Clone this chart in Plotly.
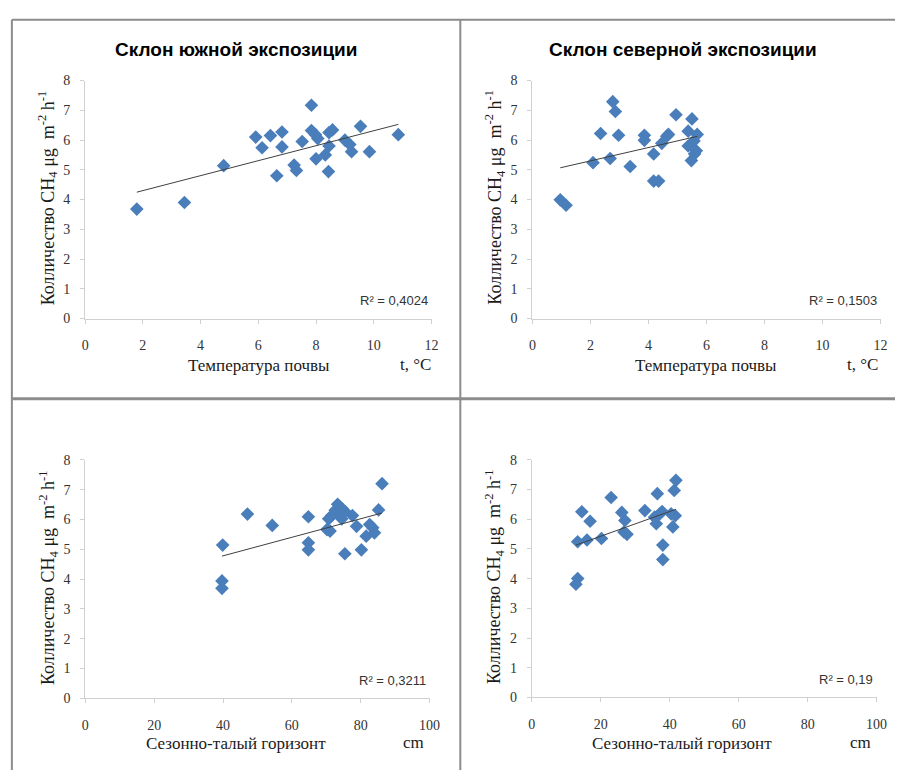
import numpy as np
import plotly.graph_objects as go

W, H = 906, 778

# ---- data ----
south_temp = [1.79, 3.44, 4.80, 5.91, 6.13, 6.42, 6.82, 6.82, 6.64, 7.24, 7.32, 7.52, 7.84, 7.84,
              7.98, 8.06, 8.00, 8.32, 8.45, 8.45, 8.57, 8.43, 9.00, 9.17, 9.23, 9.54, 9.85, 10.85]
south_temp_ch4 = [3.68, 3.90, 5.14, 6.10, 5.74, 6.15, 6.27, 5.77, 4.80, 5.16, 4.98, 5.95, 7.17, 6.32,
                  6.18, 6.05, 5.37, 5.50, 5.80, 6.25, 6.34, 4.94, 6.00, 5.85, 5.61, 6.46, 5.61, 6.18]

north_temp = [0.96, 1.16, 2.09, 2.35, 2.68, 2.77, 2.86, 2.97, 3.37, 3.86, 3.86, 4.18, 4.18, 4.35,
              4.46, 4.63, 4.69, 4.95, 5.37, 5.50, 5.37, 5.48, 5.59, 5.68, 5.57, 5.65]
north_temp_ch4 = [3.99, 3.81, 5.24, 6.22, 5.38, 7.29, 6.96, 6.16, 5.11, 6.16, 5.99, 5.53, 4.62, 4.62,
                  5.89, 6.13, 6.19, 6.85, 6.30, 6.71, 5.80, 5.31, 5.53, 6.19, 5.97, 5.64]

south_depth = [39.9, 39.7, 39.7, 47.1, 54.3, 64.8, 64.8, 64.8, 70.2, 71.1, 70.7, 71.6, 72.6, 73.3,
               74.0, 74.7, 75.4, 74.5, 75.4, 77.6, 78.8, 80.2, 81.6, 82.6, 83.5, 84.0, 85.2, 86.2]
south_depth_ch4 = [5.14, 3.94, 3.69, 6.18, 5.80, 6.09, 5.22, 4.98, 5.66, 5.61, 6.02, 6.13, 6.31, 6.51,
                   6.18, 6.35, 6.27, 6.02, 4.85, 6.13, 5.77, 4.98, 5.44, 5.83, 5.72, 5.55, 6.32, 7.20]

north_depth = [12.8, 13.3, 13.3, 14.5, 16.0, 16.9, 20.2, 23.0, 26.1, 27.0, 26.7, 27.6, 32.8, 35.6,
               36.1, 36.4, 37.1, 38.0, 38.0, 40.4, 40.9, 41.3, 41.6, 41.8, 37.8]
north_depth_ch4 = [3.81, 4.00, 5.24, 6.25, 5.30, 5.93, 5.35, 6.73, 6.23, 5.96, 5.57, 5.49, 6.29, 6.07,
                   5.85, 6.86, 6.18, 5.13, 4.64, 6.18, 5.74, 6.97, 6.12, 7.31, 6.26]

titles = ["Склон южной экспозиции", "Склон северной экспозиции"]
r2_labels = ["R² = 0,4024", "R² = 0,1503", "R² = 0,3211", "R² = 0,19"]
x_titles = ["Температура почвы", "Сезонно-талый горизонт"]
x_units = ["t, °C", "cm"]
y_title = "Колличество CH<sub>4</sub> μg  m<sup>-2</sup> h<sup>-1</sup>"

# ---- layout helpers ----
def fx(px):
    return px / W

def fy(py):
    return 1 - py / H

panels = [
    dict(x=south_temp, y=south_temp_ch4, xd=(82.5, 434.7), yd=(317.7, 75.0), xr=12, dt=2),
    dict(x=north_temp, y=north_temp_ch4, xd=(537.3, 891.3), yd=(317.7, 75.0), xr=12, dt=2),
    dict(x=south_depth, y=south_depth_ch4, xd=(82.7, 432.7), yd=(705.0, 461.7), xr=100, dt=20),
    dict(x=north_depth, y=north_depth_ch4, xd=(536.7, 887.3), yd=(704.0, 461.7), xr=100, dt=20),
]

fig = go.Figure()
layout = dict(width=W, height=H, margin=dict(l=0, r=0, t=0, b=0),
              paper_bgcolor="white", plot_bgcolor="white", showlegend=False)

AXCOL = "#d0d0d0"
TICKFONT = dict(family="Liberation Serif", size=14, color="#333333")
annotations = []
shapes = []

for i, p in enumerate(panels):
    n = i + 1
    xa = "x" if n == 1 else f"x{n}"
    ya = "y" if n == 1 else f"y{n}"
    xk = "xaxis" if n == 1 else f"xaxis{n}"
    yk = "yaxis" if n == 1 else f"yaxis{n}"
    xarr = np.array(p["x"])
    yarr = np.array(p["y"])
    fig.add_trace(go.Scatter(x=xarr, y=yarr, mode="markers", xaxis=xa, yaxis=ya,
                             marker=dict(symbol="diamond", size=10.5, color="#4a7ebb",
                                         line=dict(width=0)), hoverinfo="skip"))
    k, b = np.polyfit(xarr, yarr, 1)
    xl = np.array([xarr.min(), xarr.max()])
    fig.add_trace(go.Scatter(x=xl, y=k * xl + b, mode="lines", xaxis=xa, yaxis=ya,
                             line=dict(color="#404040", width=1), hoverinfo="skip"))
    layout[xk] = dict(domain=[fx(p["xd"][0]), fx(p["xd"][1])], anchor=ya, range=[0, p["xr"]],
                      dtick=p["dt"], tick0=0, showgrid=False, zeroline=False, showline=True,
                      linecolor=AXCOL, linewidth=1, ticks="outside", ticklen=4, tickcolor=AXCOL,
                      tickfont=TICKFONT, ticklabelstandoff=10)
    layout[yk] = dict(domain=[fy(p["yd"][0]), fy(p["yd"][1])], anchor=xa, range=[0, 8],
                      dtick=1, showgrid=False, zeroline=False, showline=True,
                      linecolor=AXCOL, linewidth=1, ticks="outside", ticklen=4, tickcolor=AXCOL,
                      tickfont=TICKFONT, ticklabelstandoff=7)

    # R² label
    annotations.append(dict(xref="paper", yref="paper", x=fx(p["xd"][1] - 2), y=fy(p["yd"][0] - 18),
                            text=r2_labels[i], showarrow=False, xanchor="right", yanchor="middle",
                            font=dict(family="Liberation Sans Narrow, Liberation Sans", size=13, color="#333333")))
    # y axis title
    annotations.append(dict(xref="paper", yref="paper", x=fx(p["xd"][0] - 38),
                            y=fy((p["yd"][0] + p["yd"][1]) / 2 - 2),
                            text=y_title, textangle=-90, showarrow=False,
                            xanchor="center", yanchor="middle",
                            font=dict(family="Liberation Serif", size=18, color="#1a1a1a")))
    row = i // 2
    # x axis title and unit
    if row == 0:
        ty = 366
        tx = p["xd"][0] + 177
        ux = p["xd"][0] + 336
    else:
        ty = 751
        tx = p["xd"][0] + 153
        ux = p["xd"][0] + 334
    annotations.append(dict(xref="paper", yref="paper", x=fx(tx), y=fy(ty), text=x_titles[row],
                            showarrow=False, xanchor="center", yanchor="middle",
                            font=dict(family="Liberation Serif", size=17, color="#1a1a1a")))
    annotations.append(dict(xref="paper", yref="paper", x=fx(ux), y=fy(ty - 1), text=x_units[row],
                            showarrow=False, xanchor="center", yanchor="middle",
                            font=dict(family="Liberation Serif", size=17, color="#1a1a1a")))

# panel titles
for j, t in enumerate(titles):
    annotations.append(dict(xref="paper", yref="paper", x=fx(236 + j * 454), y=fy(43), text=f"<b>{t}</b>",
                            showarrow=False, xanchor="center", yanchor="middle",
                            font=dict(family="Liberation Sans Narrow, Liberation Sans", size=19, color="#000000")))

# cell borders
BC = "#8c8c8c"
shapes.append(dict(type="line", xref="paper", yref="paper", x0=fx(8), x1=1, y0=fy(13), y1=fy(13),
                   line=dict(color=BC, width=2)))
shapes.append(dict(type="line", xref="paper", yref="paper", x0=fx(8), x1=fx(8), y0=fy(13), y1=0,
                   line=dict(color=BC, width=2)))
shapes.append(dict(type="line", xref="paper", yref="paper", x0=fx(464), x1=fx(464), y0=fy(13), y1=0,
                   line=dict(color=BC, width=2)))
shapes.append(dict(type="line", xref="paper", yref="paper", x0=fx(8), x1=1, y0=fy(399.5), y1=fy(399.5),
                   line=dict(color=BC, width=3)))

layout["annotations"] = annotations
layout["shapes"] = shapes
fig.update_layout(**layout)
fig.write_html("out.html")
